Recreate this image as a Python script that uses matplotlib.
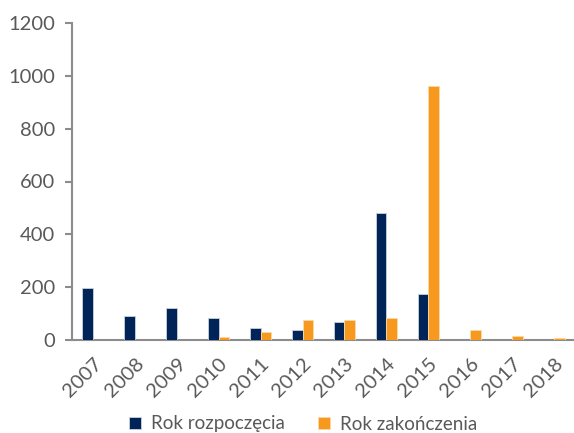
import matplotlib
matplotlib.use("Agg")
import matplotlib.pyplot as plt
import numpy as np

years = ["2007", "2008", "2009", "2010", "2011", "2012", "2013", "2014",
         "2015", "2016", "2017", "2018"]
rok_rozpoczecia = [197, 91, 123, 85, 47, 38, 68, 482, 174, 0, 0, 0]
rok_zakonczenia = [0, 0, 0, 10, 32, 77, 75, 83, 963, 39, 16, 9]
series_labels = ["Rok rozpoczęcia", "Rok zakończenia"]
y_ticks = [0, 200, 400, 600, 800, 1000, 1200]

navy = "#002458"
orange = "#F7991F"
grey_text = "#595959"
axis_grey = "#8C8C8C"

plt.rcParams["font.family"] = ["Lato", "DejaVu Sans"]

fig = plt.figure(figsize=(5.74, 4.33), dpi=100)
ax = fig.add_axes([72 / 574, 1 - 340 / 433, (575 - 72) / 574, (340 - 23) / 433])

x = np.arange(len(years))
w = 0.25
ax.bar(x - w / 2, rok_rozpoczecia, width=w, color=navy, edgecolor="#C9D1DE",
       linewidth=0.6, label=series_labels[0], zorder=3)
ax.bar(x + w / 2, rok_zakonczenia, width=w, color=orange, edgecolor="#FCD9A8",
       linewidth=0.6, label=series_labels[1], zorder=3)

ax.set_xlim(-0.5, len(years) - 0.5)
ax.set_ylim(0, 1200)
ax.set_yticks(y_ticks)
ax.set_yticklabels([str(v) for v in y_ticks], fontsize=14.5, color=grey_text)
ax.set_xticks(x)
ax.set_xticklabels(years, rotation=45, ha="right", rotation_mode="anchor",
                   fontsize=14.5, color=grey_text)

for side in ("top", "right"):
    ax.spines[side].set_visible(False)
for side in ("left", "bottom"):
    ax.spines[side].set_color(axis_grey)
    ax.spines[side].set_linewidth(1.5)
ax.tick_params(axis="y", length=5, width=1.5, color=axis_grey, pad=7)
ax.tick_params(axis="x", length=0, pad=11)

fig.legend(loc="center", bbox_to_anchor=(303 / 574, 1 - 424 / 433), ncol=2,
           frameon=False, fontsize=13.5, labelcolor=grey_text,
           handlelength=0.65, handleheight=0.65, handletextpad=0.5,
           columnspacing=1.8)

fig.savefig("out.png", dpi=100)
